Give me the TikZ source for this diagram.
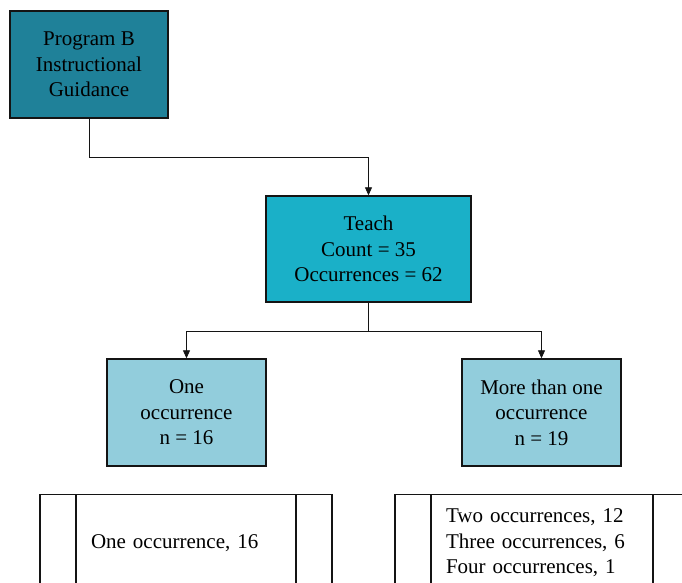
\documentclass[tikz,border=0pt]{standalone}
\usepackage{fontspec}
\setmainfont{Liberation Serif}
\usetikzlibrary{arrows.meta}
\definecolor{progfill}{RGB}{31,129,153}
\definecolor{teachfill}{RGB}{26,176,200}
\definecolor{subfill}{RGB}{146,205,220}
\definecolor{edgecol}{RGB}{20,20,20}
\tikzset{
  box/.style={draw=edgecol, line width=1.4pt, align=center, inner sep=0pt,
    font=\fontsize{21}{25.5}\selectfont},
  listbox/.style={draw=edgecol, line width=1.4pt, align=left, inner ysep=0pt,
    inner xsep=51pt, minimum height=97pt, fill=white,
    font=\fontsize{21}{25.5}\selectfont,
    path picture={
      \draw[edgecol, line width=1.4pt]
        ([xshift=36pt]path picture bounding box.north west) --
        ([xshift=36pt]path picture bounding box.south west)
        ([xshift=-36pt]path picture bounding box.north east) --
        ([xshift=-36pt]path picture bounding box.south east);
    }},
  link/.style={draw=edgecol, line width=0.8pt},
  arrowlink/.style={link, -{Triangle[length=8pt,width=7pt]}}
}
\begin{document}
\begin{tikzpicture}[x=1pt,y=-1pt]
\useasboundingbox (0,0) rectangle (682,582);
\clip (0,0) rectangle (682,582);
\node[box, fill=progfill, minimum width=158pt, minimum height=107pt] (prog) at (89,64.5)
  {Program B\\Instructional\\Guidance};
\node[box, fill=teachfill, minimum width=205pt, minimum height=106pt] (teach) at (368.5,249)
  {Teach\\Count = 35\\Occurrences = 62};
\node[box, fill=subfill, minimum width=159pt, minimum height=107pt] (one) at (186.5,412.5)
  {One\\occurrence\\n = 16};
\node[box, fill=subfill, minimum width=159pt, minimum height=107pt] (more) at (541.5,412.5)
  {More than one\\occurrence\\n = 19};
\node[listbox, text width=190pt] (onelist) at (186,543) {One occurrence, 16};
\node[listbox, text width=192pt] (morelist) at (542,543)
  {Two occurrences, 12\\Three occurrences, 6\\Four occurrences, 1};
% connectors
\draw[arrowlink] (prog.south) -- ++(0,39) -| (teach.north);
\coordinate (split) at ([yshift=-29pt]teach.south);
\draw[link] (teach.south) -- (split);
\draw[arrowlink] (split) -| (one.north);
\draw[arrowlink] (split) -| (more.north);
\end{tikzpicture}
\end{document}
